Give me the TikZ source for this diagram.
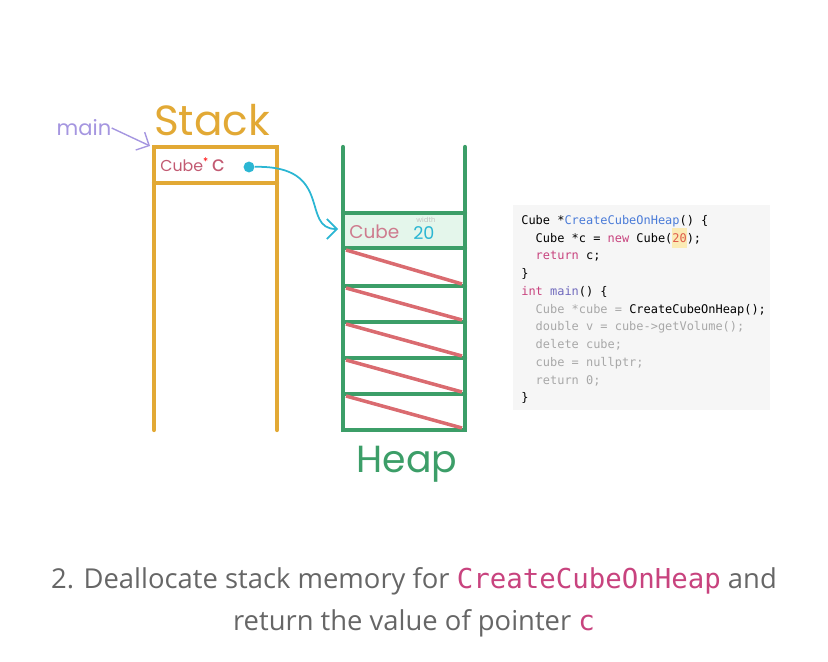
\documentclass[tikz,border=0pt]{standalone}
\usepackage{fontspec}
\setmainfont{Open Sans}
\setmonofont{DejaVu Sans Mono}
\newfontfamily\handfont{Poppins}
\usepackage{xcolor}
\usetikzlibrary{arrows.meta,positioning}

\definecolor{stackorange}{HTML}{E2A935}
\definecolor{heapgreen}{HTML}{3C9E68}
\definecolor{cellfill}{HTML}{E4F6EB}
\definecolor{freered}{HTML}{DA6B70}
\definecolor{ptrcyan}{HTML}{2BB6D3}
\definecolor{mainpurple}{HTML}{A596E0}
\definecolor{typered}{HTML}{C25A72}
\definecolor{captiongray}{HTML}{666666}
\definecolor{codepink}{HTML}{C8437E}
\definecolor{codeblue}{HTML}{4A7BD8}
\definecolor{codegray}{HTML}{A8A8A8}
\definecolor{codebg}{HTML}{F6F6F6}
\definecolor{numbg}{HTML}{FBEBB5}

\begin{document}
\begin{tikzpicture}[
    x=0.02cm, y=-0.02cm,
    wall/.style={line width=2.4pt, line cap=round},
    hand/.style={font={\handfont\fontsize{#1}{#1}\selectfont}, inner sep=0pt},
    arr/.style={-{Straight Barb[length=2mm]}, line width=1pt},
    cross/.style={freered, line width=2pt},
    code/.style={font={\fontsize{6.8}{10.1}\selectfont\ttfamily}, align=left, inner sep=0pt, anchor=north west}
]
\useasboundingbox (0,0) rectangle (828,662);

% stack frame
\draw[wall, stackorange] (154,430) -- (154,147) -- (277,147) -- (277,430);
\draw[wall, stackorange] (154,183) -- (277,183);
\node[hand=24, stackorange] (stack) at (212,120) {Stack};
\node[hand=12, mainpurple] (main) at (84,128) {main};
\coordinate (frame) at (150,146);
\draw[arr, mainpurple, line width=0.8pt] (main.east) .. controls (130,136) .. (frame);
\node[hand=9, typered, anchor=base west] (ptr) at (160,172) {Cube\textsuperscript{\color{red}*}\,\fontsize{12}{12}\selectfont c};
\node[circle, fill=ptrcyan, inner sep=2.2pt] (dot) at (249,167) {};

% heap
\fill[cellfill] (343,213) rectangle (465,248);
\draw[wall, heapgreen] (343,147) -- (343,430) -- (465,430) -- (465,147);
\foreach \y in {213,248,286,322,358,394}
    \draw[wall, heapgreen] (343,\y) -- (465,\y);
\foreach \a/\b in {248/286,286/322,322/358,358/394,394/430}
    \draw[cross] (346,\a+2) -- (462,\b-2);
\node[hand=10.5, typered!80, anchor=base west] (cube) at (349,238) {Cube};
\node[hand=4, codegray!70] (wlabel) at (426,220) {width};
\node[hand=10, ptrcyan, anchor=base west] (val) at (413,239) {20};
\node[hand=21.5, heapgreen] (heap) at (407,464) {Heap};
\coordinate (cell) at (338,229);
\draw[arr, ptrcyan] (dot) .. controls (335,165) and (300,229) .. (cell);

% code
\fill[codebg] (513,205) rectangle (770,410);
\node[code] (src) at (521,215) {%
Cube *\textcolor{codeblue}{CreateCubeOnHeap}() \{\\
~~Cube *c = \textcolor{codepink}{new} Cube(\colorbox{numbg}{\kern-3pt\textcolor{codepink!60!orange}{20}\kern-3pt});\\
~~\textcolor{codepink}{return} c;\\
\}\\
\textcolor{codepink}{int} \textcolor{codeblue!70!codepink}{main}() \{\\
~~\textcolor{codegray}{Cube *cube =} CreateCubeOnHeap();\\
~~\textcolor{codegray}{double v = cube->getVolume();}\\
~~\textcolor{codegray}{delete cube;}\\
~~\textcolor{codegray}{cube = nullptr;}\\
~~\textcolor{codegray}{return 0;}\\
\}};

% caption
\node[font=\fontsize{15.6}{15.6}\selectfont, text=captiongray, inner sep=0pt] (cap1) at (414,581)
    {2. Deallocate stack memory for \textcolor{codepink}{\ttfamily CreateCubeOnHeap} and};
\node[font=\fontsize{15.6}{15.6}\selectfont, text=captiongray, inner sep=0pt] (cap2) at (414,623)
    {return the value of pointer \textcolor{codepink}{\ttfamily c}};
\end{tikzpicture}
\end{document}
